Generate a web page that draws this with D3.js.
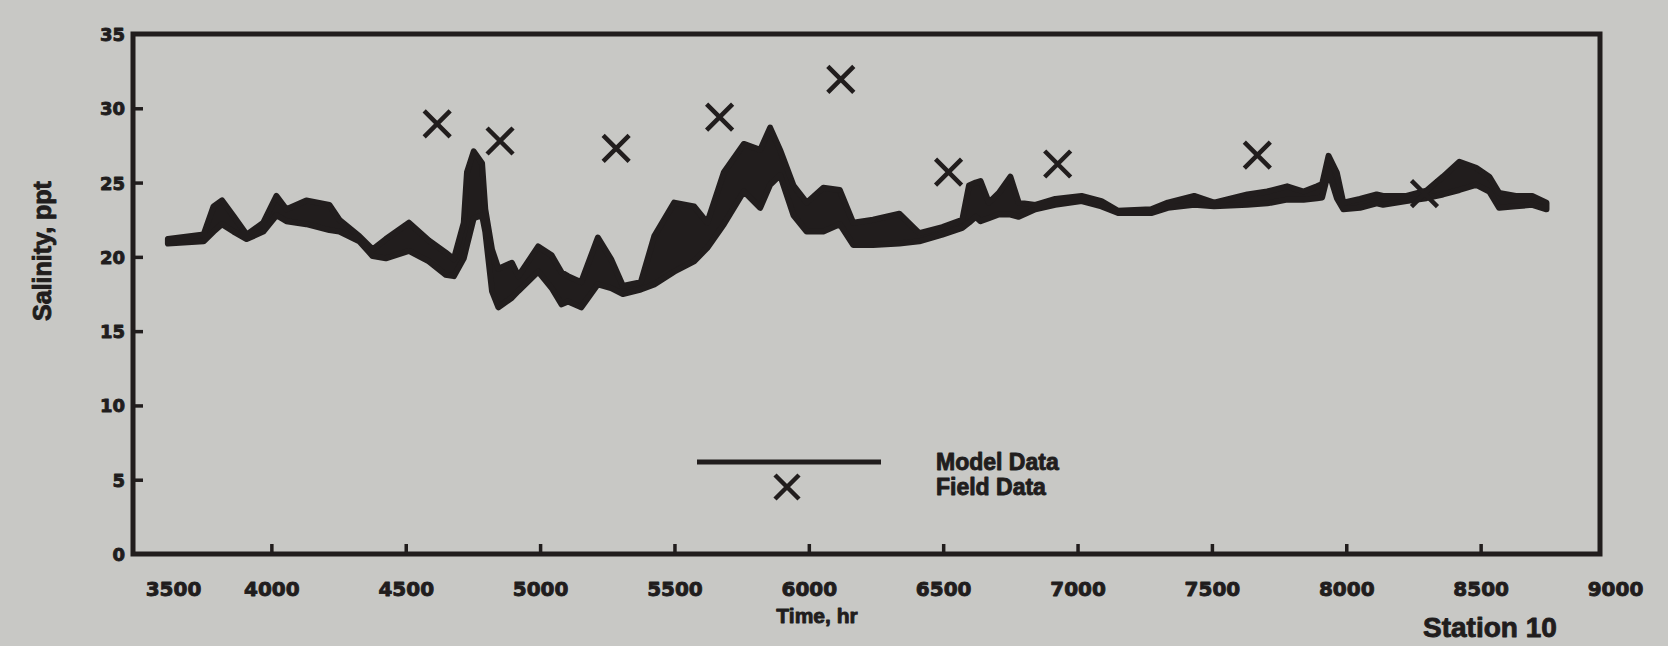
<!DOCTYPE html>
<html><head><meta charset="utf-8">
<script src="https://cdn.jsdelivr.net/npm/d3@7"></script>
<style>html,body{margin:0;padding:0;background:#c8c8c5;overflow:hidden}svg{display:block}</style>
</head><body>
<script>
// ---- data ----
const xTicks = [3500, 4000, 4500, 5000, 5500, 6000, 6500, 7000, 7500, 8000, 8500, 9000];
const yTicks = [0, 5, 10, 15, 20, 25, 30, 35];

const modelTime = [3615, 3748, 3785, 3816, 3859, 3908, 3970, 4019, 4056, 4130, 4216, 4253, 4327, 4377, 4426, 4512, 4586, 4648, 4679, 4716, 4728, 4753, 4784, 4796, 4821, 4845, 4895, 4919, 4993, 5043, 5080, 5104, 5153, 5215, 5264, 5308, 5375, 5425, 5499, 5573, 5622, 5684, 5758, 5819, 5856, 5893, 5943, 5992, 6054, 6115, 6165, 6239, 6337, 6411, 6497, 6571, 6596, 6621, 6639, 6670, 6707, 6750, 6781, 6843, 6917, 7015, 7089, 7151, 7274, 7336, 7434, 7508, 7632, 7706, 7780, 7841, 7891, 7910, 7934, 7965, 7989, 8051, 8113, 8137, 8224, 8298, 8360, 8421, 8483, 8532, 8569, 8631, 8692, 8745];
const modelHigh = [21.2, 21.5, 23.4, 23.8, 22.75, 21.5, 22.3, 24.1, 23.2, 23.8, 23.5, 22.5, 21.4, 20.5, 21.2, 22.3, 21.1, 20.3, 19.85, 22.3, 25.7, 27.1, 26.3, 23.2, 20.5, 19.2, 19.6, 18.7, 20.7, 20.1, 18.95, 18.7, 18.3, 21.3, 19.85, 18.05, 18.3, 21.4, 23.65, 23.4, 22.3, 25.7, 27.6, 27.2, 28.7, 27.2, 24.8, 23.65, 24.65, 24.5, 22.3, 22.5, 22.9, 21.6, 22.0, 22.5, 24.8, 25.0, 25.1, 23.65, 24.3, 25.4, 23.65, 23.5, 23.9, 24.1, 23.75, 23.1, 23.2, 23.65, 24.1, 23.65, 24.2, 24.4, 24.75, 24.4, 24.75, 24.9, 26.8, 25.65, 23.65, 23.9, 24.2, 24.1, 24.1, 24.45, 25.4, 26.4, 26.0, 25.4, 24.3, 24.1, 24.1, 23.65];
const modelLow = [20.9, 21.05, 21.7, 22.2, 21.7, 21.2, 21.7, 22.8, 22.4, 22.2, 21.8, 21.7, 21.05, 20.05, 19.9, 20.4, 19.7, 18.8, 18.7, 19.9, 20.8, 22.6, 22.8, 21.7, 17.7, 16.6, 17.25, 17.7, 19.0, 17.9, 16.8, 17.0, 16.6, 18.15, 17.9, 17.5, 17.8, 18.15, 19.0, 19.7, 20.6, 22.2, 24.4, 23.3, 24.85, 25.5, 22.8, 21.7, 21.7, 22.2, 20.8, 20.8, 20.9, 21.05, 21.5, 21.95, 22.3, 22.7, 22.4, 22.6, 22.85, 22.85, 22.7, 23.2, 23.5, 23.75, 23.4, 22.95, 22.95, 23.3, 23.5, 23.4, 23.5, 23.6, 23.85, 23.85, 23.95, 24.0, 25.75, 23.95, 23.2, 23.3, 23.6, 23.5, 23.75, 23.95, 24.2, 24.5, 24.85, 24.4, 23.3, 23.4, 23.5, 23.2];

const fieldTime = [4617, 4851, 5283, 5668, 6119, 6520, 6926, 7669, 8291];
const fieldSalinity = [28.95, 27.8, 27.3, 29.4, 31.95, 25.7, 26.25, 26.85, 24.25];

const legendLabels = ["Model Data", "Field Data"];

// ---- drawing ----
const W = 1668, H = 646;
const ink = "#211d1d";
const NUM = "'DejaVu Sans', sans-serif";
const TXT = "'Liberation Sans', Arial, sans-serif";

const svg = d3.select("body").append("svg").attr("width", W).attr("height", H);
svg.append("rect").attr("width", W).attr("height", H).attr("fill", "#c8c8c5");

const x = d3.scaleLinear().domain([3500, 9000]).range([137, 1615]);
const y = d3.scaleLinear().domain([0, 35]).range([554, 34]);

function heavy(sel) {
  return sel.attr("fill", ink).attr("stroke", ink).attr("stroke-width", 0.9)
    .attr("stroke-linejoin", "round").attr("font-weight", "bold");
}

// frame
svg.append("rect").attr("x", 133).attr("y", 34).attr("width", 1600 - 133).attr("height", 554 - 34)
  .attr("fill", "none").attr("stroke", ink).attr("stroke-width", 5);

// x axis
const gx = svg.append("g").attr("transform", "translate(0,554)")
  .call(d3.axisBottom(x).tickValues(xTicks).tickSize(-10).tickPadding(0).tickFormat(d3.format("d")));
gx.select(".domain").remove();
gx.selectAll(".tick line").attr("stroke", ink).attr("stroke-width", 3.5)
  .attr("display", d => (d === 3500 || d === 9000) ? "none" : null);
heavy(gx.selectAll(".tick text")).attr("font-family", NUM)
  .attr("font-size", 20).attr("y", 42).attr("dy", null)
  .attr("dx", d => d === 3500 ? 36 : 0);

// y axis
const gy = svg.append("g").attr("transform", "translate(133,0)")
  .call(d3.axisLeft(y).tickValues(yTicks).tickSize(-10).tickPadding(0).tickFormat(d3.format("d")));
gy.select(".domain").remove();
gy.selectAll(".tick line").attr("stroke", ink).attr("stroke-width", 3.5)
  .attr("display", d => (d === 0 || d === 35) ? "none" : null);
heavy(gy.selectAll(".tick text")).attr("font-family", NUM)
  .attr("font-size", 18).attr("x", -8).attr("dy", "0.36em");

// axis titles
heavy(svg.append("text")).attr("x", 817).attr("y", 623).attr("text-anchor", "middle")
  .attr("font-family", TXT).attr("font-size", 21)
  .text("Time, hr");
heavy(svg.append("text")).attr("transform", "translate(51,251) rotate(-90)").attr("text-anchor", "middle")
  .attr("font-family", TXT).attr("font-size", 25)
  .text("Salinity, ppt");

// caption at bottom right (cut by the page edge in the source)
heavy(svg.append("text")).attr("x", 1423).attr("y", 637)
  .attr("font-family", TXT).attr("font-size", 28)
  .text("Station 10");

// model data band
const modelRows = modelTime.map((t, i) => ({t, hi: modelHigh[i], lo: modelLow[i]}));
const area = d3.area().x(d => x(d.t)).y0(d => y(d.lo)).y1(d => y(d.hi)).curve(d3.curveLinear);
svg.append("path").datum(modelRows).attr("d", area)
  .attr("fill", ink).attr("stroke", ink).attr("stroke-width", 6).attr("stroke-linejoin", "round");

// field data crosses
const cross = "M-13,-13L13,13M-13,13L13,-13";
svg.append("g").selectAll("path").data(fieldTime.map((t, i) => ({t, v: fieldSalinity[i]})))
  .join("path").attr("transform", d => `translate(${x(d.t)},${y(d.v)})`)
  .attr("d", cross).attr("stroke", ink).attr("stroke-width", 4.5).attr("fill", "none");

// legend
const lg = svg.append("g");
lg.append("line").attr("x1", 697).attr("x2", 881).attr("y1", 462).attr("y2", 462)
  .attr("stroke", ink).attr("stroke-width", 5);
lg.append("path").attr("transform", "translate(787,487)").attr("d", "M-12,-12L12,12M-12,12L12,-12")
  .attr("stroke", ink).attr("stroke-width", 4.5).attr("fill", "none");
heavy(lg.selectAll("text").data(legendLabels).join("text"))
  .attr("x", 936).attr("y", (d, i) => 470 + i * 25)
  .attr("font-family", TXT).attr("font-size", 23)
  .text(d => d);
</script>
</body></html>
